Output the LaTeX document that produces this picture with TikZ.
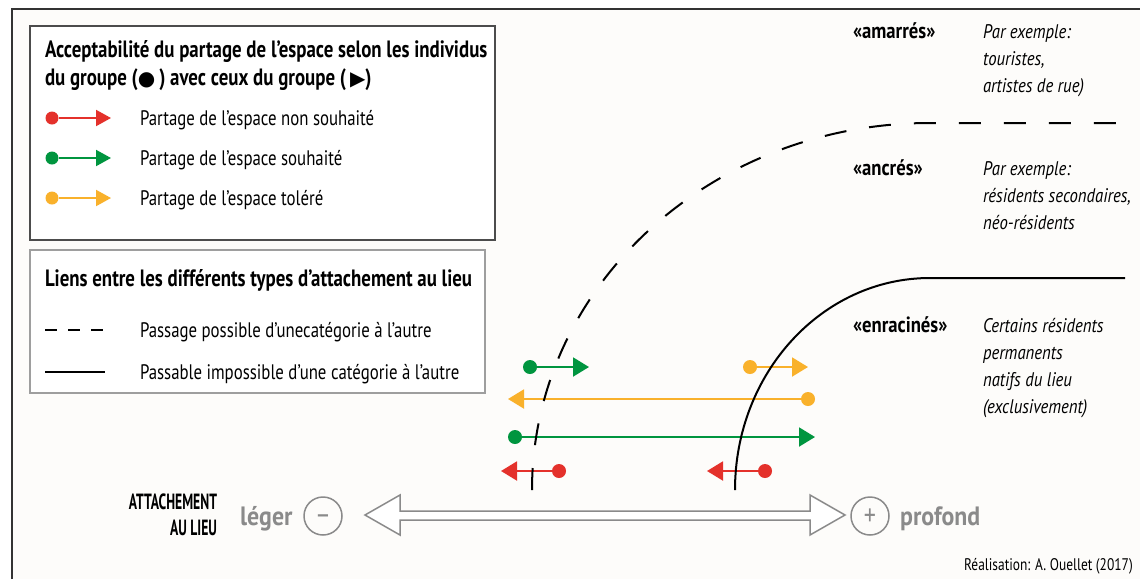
\documentclass[tikz,border=0pt]{standalone}
\usepackage{fontspec}
\setmainfont[FakeStretch=0.8]{PT Sans}
\newfontfamily\widefont[FakeStretch=0.85]{PT Sans}
\newfontfamily\grayfont[FakeStretch=0.9]{PT Sans}
\newfontfamily\narrowfont[FakeStretch=0.62]{PT Sans}
\newfontfamily\symfont{DejaVu Sans}
\usetikzlibrary{arrows.meta}
\definecolor{cred}{HTML}{E4312B}
\definecolor{cgreen}{HTML}{00953F}
\definecolor{corange}{HTML}{F9B12B}
\definecolor{cgray}{HTML}{8A8A8A}
\definecolor{bgc}{HTML}{FDFCFA}
\definecolor{framec}{HTML}{333333}
\begin{document}
\begin{tikzpicture}[x=1pt,y=-1pt,
  txt/.style={anchor=base west, inner sep=0pt, outer sep=0pt, font=\fontsize{21}{24}\selectfont},
  ttl/.style={anchor=base west, inner sep=0pt, outer sep=0pt, font=\fontsize{23.6}{26}\selectfont\bfseries},
  cat/.style={anchor=base west, inner sep=0pt, outer sep=0pt, font=\widefont\fontsize{22}{24}\selectfont\bfseries},
  ex/.style={anchor=base west, inner sep=0pt, outer sep=0pt, font=\widefont\fontsize{19.7}{22}\selectfont\itshape},
  axl/.style={anchor=base east, inner sep=0pt, outer sep=0pt, font=\narrowfont\fontsize{22}{24}\selectfont\bfseries},
  dot/.style={circle, fill=#1, inner sep=0pt, outer sep=0pt, minimum size=14pt},
  ldot/.style={circle, fill=#1, inner sep=0pt, outer sep=0pt, minimum size=13pt},
  conn/.style={draw=#1, line width=2pt, -{Triangle[length=16pt,width=19pt,fill=#1,color=#1]}},
  lconn/.style={draw=#1, line width=2pt, -{Triangle[length=15pt,width=16pt,fill=#1,color=#1]}},
  curvedash/.style={line width=2pt, dash pattern=on 22pt off 23pt},
  curvesolid/.style={line width=2pt},
  pm/.style={circle, draw=cgray, line width=1.5pt, minimum size=38pt, inner sep=0pt},
  pmsign/.style={inner sep=0pt, text=cgray, font=\fontsize{30}{30}\selectfont},
  grayword/.style={inner sep=0pt, text=cgray, font=\grayfont\fontsize{26.5}{28}\selectfont\bfseries},
]
\useasboundingbox (0,0) rectangle (1140,579);
\fill[white] (0,0) rectangle (1140,579);
\fill[bgc] (12,9) rectangle (1140,579);
\draw[framec, line width=2pt] (12,579) -- (12,9) -- (1140,9);

% legend box 1
\draw[fill=white, draw=black!70, line width=1.2pt] (30,26) rectangle (495,240);
\node[ttl] (t1a) at (45,57) {Acceptabilité du partage de l’espace selon les individus};
\node[ttl] (t1b) at (45,85) {du groupe ({\symfont\fontsize{20}{20}\selectfont ●}\,) avec ceux du groupe (\,{\symfont\fontsize{20}{20}\selectfont ▶})};
\node[ldot=cred] (lr) at (52,118) {};
\coordinate (lrt) at (111,118);
\draw[lconn=cred] (lr) -- (lrt);
\node[txt] (lrx) at (140,125) {Partage de l’espace non souhaité};
\node[ldot=cgreen] (lg) at (52,158) {};
\coordinate (lgt) at (111,158);
\draw[lconn=cgreen] (lg) -- (lgt);
\node[txt] (lgx) at (140,165) {Partage de l’espace souhaité};
\node[ldot=corange] (lo) at (52,198) {};
\coordinate (lot) at (111,198);
\draw[lconn=corange] (lo) -- (lot);
\node[txt] (lox) at (140,205) {Partage de l’espace toléré};

% legend box 2
\draw[fill=white, draw=black!38, line width=1.2pt] (30,250) rectangle (485,393);
\node[ttl] (t2) at (45,286) {Liens entre les différents types d’attachement au lieu};
\coordinate (ld1) at (45,330); \coordinate (ld2) at (105,330);
\draw[line width=1.5pt, dash pattern=on 12pt off 11pt] (ld1) -- (ld2);
\node[txt] (ldx) at (140,337) {Passage possible d’unecatégorie à l’autre};
\coordinate (ls1) at (45,372); \coordinate (ls2) at (105,372);
\draw[line width=1.5pt] (ls1) -- (ls2);
\node[txt] (lsx) at (140,379) {Passable impossible d’une catégorie à l’autre};

% right labels
\node[cat] (amar) at (853,38) {«amarrés»};
\node[ex] (amar1) at (983,38) {Par exemple:};
\node[ex] (amar2) at (983,65) {touristes,};
\node[ex] (amar3) at (983,92) {artistes de rue)};
\node[cat] (ancr) at (853,175) {«ancrés»};
\node[ex] (ancr1) at (983,175) {Par exemple:};
\node[ex] (ancr2) at (983,202) {résidents secondaires,};
\node[ex] (ancr3) at (983,229) {néo-résidents};
\node[cat] (enra) at (853,332) {«enracinés»};
\node[ex] (enra1) at (983,332) {Certains résidents};
\node[ex] (enra2) at (983,359) {permanents};
\node[ex] (enra3) at (983,386) {natifs du lieu};
\node[ex] (enra4) at (983,413) {(exclusivement)};

% arrows in diagram
\node[dot=cgreen] (g1) at (530,367) {};
\coordinate (g1t) at (589,367);
\draw[conn=cgreen] (g1) -- (g1t);
\node[dot=corange] (o1) at (750,367) {};
\coordinate (o1t) at (808,367);
\draw[conn=corange] (o1) -- (o1t);
\node[dot=corange] (o2) at (808,399) {};
\coordinate (o2t) at (508,399);
\draw[conn=corange] (o2) -- (o2t);
\node[dot=cgreen] (g2) at (515,437) {};
\coordinate (g2t) at (815,437);
\draw[conn=cgreen] (g2) -- (g2t);
\node[dot=cred] (r1) at (559,471) {};
\coordinate (r1t) at (501,471);
\draw[conn=cred] (r1) -- (r1t);
\node[dot=cred] (r2) at (765,471) {};
\coordinate (r2t) at (707,471);
\draw[conn=cred] (r2) -- (r2t);

% curves
\coordinate (da) at (532,490);
\coordinate (db) at (930,123);
\coordinate (dc) at (1125,123);
\draw[curvedash] (da) .. controls (532,287.3) and (710.2,123) .. (db) -- (dc);
\coordinate (sa) at (735,490);
\coordinate (sb) at (930,278);
\coordinate (sc) at (1125,278);
\draw[curvesolid] (sa) .. controls (735,372.9) and (822.3,278) .. (sb) -- (sc);

% axis
\node[axl] (att1) at (217,509) {ATTACHEMENT};
\node[axl] (att2) at (217,535) {AU LIEU};
\node[grayword, anchor=base west] (leger) at (240,525) {léger};
\node[pm] (minus) at (323,516) {};
\node[pmsign, yshift=-4pt] (minussign) at (minus.center) {–};
\node[pm] (plus) at (870,516) {};
\node[pmsign, yshift=-1.5pt] (plussign) at (plus.center) {+};
\node[grayword, anchor=base west] (prof) at (900,525) {profond};
\draw[draw=cgray, fill=white, line width=1.5pt, line join=miter]
  (365,515) -- (400,495) -- (400,511) -- (810,511) -- (810,495) -- (845,515)
  -- (810,535) -- (810,520) -- (400,520) -- (400,535) -- cycle;

\node[anchor=base east, inner sep=0pt, font=\fontsize{16.8}{18}\selectfont] (real) at (1133,570) {Réalisation: A. Ouellet (2017)};
\end{tikzpicture}
\end{document}
